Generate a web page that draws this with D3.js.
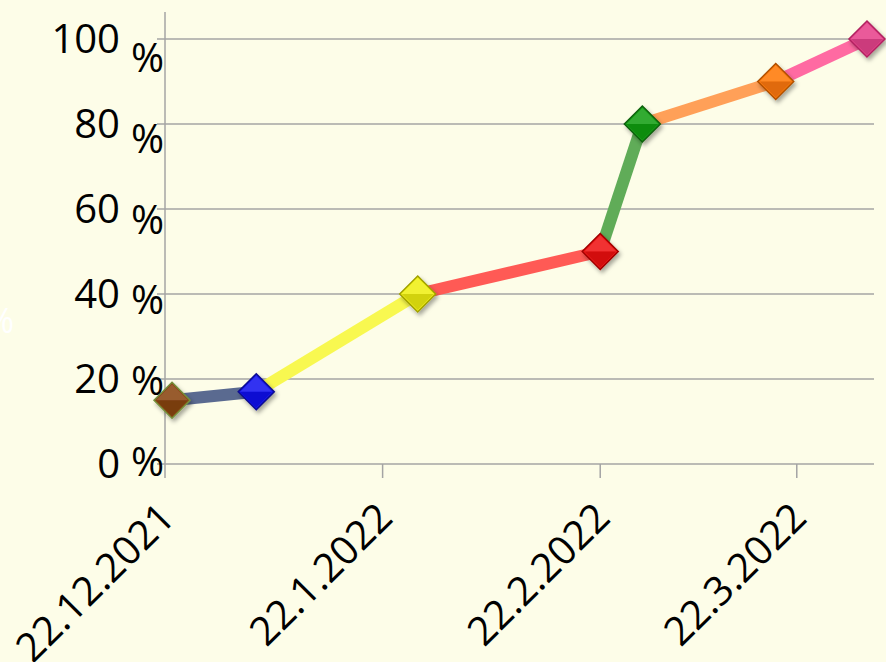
<!DOCTYPE html>
<html>
<head>
<meta charset="utf-8">
<script src="https://cdn.jsdelivr.net/npm/d3@7"></script>
<style>
body { margin: 0; background: #fdfde8; }
svg { display: block; }
</style>
</head>
<body>
<svg width="886" height="662"></svg>
<script>
// data
const dates = ['2021-12-23', '2022-01-04', '2022-01-27', '2022-02-22', '2022-02-28', '2022-03-19', '2022-04-01'];
const values = [15, 17, 40, 50, 80, 90, 100];
const markerColors = ['#8a4512', '#1414f0', '#f0f014', '#f01414', '#14a014', '#ff7a0a', '#e8448c'];
const markerStrokes = ['#74903a', '#0a0a90', '#a0a000', '#a00000', '#0a600a', '#b05000', '#b02060'];
const lineColors = ['#5a6a90', '#f8f850', '#ff5a55', '#60ac58', '#ffa058', '#ff6aa2'];
const yTicks = [0, 20, 40, 60, 80, 100];
const xTicks = ['2021-12-22', '2022-01-22', '2022-02-22', '2022-03-22'];
const xDomain = ['2021-12-22', '2022-04-02'];

const parse = d3.timeParse('%Y-%m-%d');
const fmt = d => `${d.getDate()}.${d.getMonth() + 1}.${d.getFullYear()}`;

const svg = d3.select('svg');
const width = +svg.attr('width');
const height = +svg.attr('height');

svg.append('rect')
    .attr('width', width)
    .attr('height', height)
    .attr('fill', '#fdfde8');

const x = d3.scaleTime()
    .domain(xDomain.map(parse))
    .range([165, 874]);

const y = d3.scaleLinear()
    .domain([0, 100])
    .range([464, 39]);

// the "%" signs sit on their own slightly squeezed scale
const pctY = d3.scaleLinear()
    .domain([0, 100])
    .range([476, 72]);

const font = "'Open Sans', 'Noto Sans', sans-serif";

const defs = svg.append('defs');
const shadow = defs.append('filter')
    .attr('id', 'shadow')
    .attr('x', '-50%').attr('y', '-50%')
    .attr('width', '200%').attr('height', '200%');
shadow.append('feDropShadow')
    .attr('dx', 2).attr('dy', 3)
    .attr('stdDeviation', 2)
    .attr('flood-color', '#000')
    .attr('flood-opacity', 0.35);

// grid
svg.append('g')
    .selectAll('line')
    .data(yTicks)
    .join('line')
    .attr('x1', 157)
    .attr('x2', x.range()[1])
    .attr('y1', d => y(d))
    .attr('y2', d => y(d))
    .attr('stroke', '#a4a4a4')
    .attr('stroke-width', 1.5);

// y axis line
svg.append('line')
    .attr('x1', x.range()[0]).attr('x2', x.range()[0])
    .attr('y1', 12).attr('y2', y(0) + 14)
    .attr('stroke', '#a4a4a4')
    .attr('stroke-width', 1.5);

// x ticks
svg.append('g')
    .selectAll('line')
    .data(xTicks.slice(1).map(parse))
    .join('line')
    .attr('x1', d => x(d))
    .attr('x2', d => x(d))
    .attr('y1', y(0))
    .attr('y2', y(0) + 14)
    .attr('stroke', '#a4a4a4')
    .attr('stroke-width', 1.5);

// y labels
const yLab = svg.append('g')
    .attr('font-family', font)
    .attr('font-size', 40)
    .attr('fill', '#000');

yLab.selectAll('text.num')
    .data(yTicks)
    .join('text')
    .attr('class', 'num')
    .attr('x', 120)
    .attr('y', d => y(d) + 14)
    .attr('text-anchor', 'end')
    .text(d => d);

yLab.selectAll('text.pct')
    .data(yTicks)
    .join('text')
    .attr('class', 'pct')
    .attr('x', 164)
    .attr('y', d => pctY(d))
    .attr('text-anchor', 'end')
    .text('%');

// faint white leftover glyph on the left edge
svg.append('text')
    .attr('x', -14)
    .attr('y', 333)
    .attr('font-family', font)
    .attr('font-size', 34)
    .attr('fill', '#ffffff')
    .text('%');

// x labels
svg.append('g')
    .attr('font-family', font)
    .attr('font-size', 40)
    .selectAll('text')
    .data(xTicks.map(parse))
    .join('text')
    .attr('text-anchor', 'end')
    .attr('transform', d => `translate(${x(d) + 12},${520}) rotate(-45)`)
    .text(d => fmt(d));

// line segments, each coloured after the point it runs to
const pts = dates.map((d, i) => ({ date: parse(d), value: values[i] }));

svg.append('g')
    .selectAll('line')
    .data(d3.pairs(pts))
    .join('line')
    .attr('x1', d => x(d[0].date))
    .attr('y1', d => y(d[0].value))
    .attr('x2', d => x(d[1].date))
    .attr('y2', d => y(d[1].value))
    .attr('stroke', (d, i) => lineColors[i])
    .attr('stroke-width', 12);

// diamond markers
const r = 18;
const markers = svg.append('g')
    .selectAll('g')
    .data(pts)
    .join('g')
    .attr('transform', d => `translate(${x(d.date)},${y(d.value)})`)
    .attr('filter', 'url(#shadow)');

markers.append('path')
    .attr('d', `M0,${-r}L${r},0L0,${r}L${-r},0Z`)
    .attr('fill', (d, i) => markerColors[i])
    .attr('stroke', (d, i) => markerStrokes[i])
    .attr('stroke-width', 1.5);

// bevel shading
markers.append('path')
    .attr('d', `M0,${-r + 2}L${r - 2},0L${-r + 2},0Z`)
    .attr('fill', '#fff')
    .attr('opacity', 0.12);

markers.append('path')
    .attr('d', `M0,${r - 2}L${r - 2},0L${-r + 2},0Z`)
    .attr('fill', '#000')
    .attr('opacity', 0.12);
</script>
</body>
</html>
